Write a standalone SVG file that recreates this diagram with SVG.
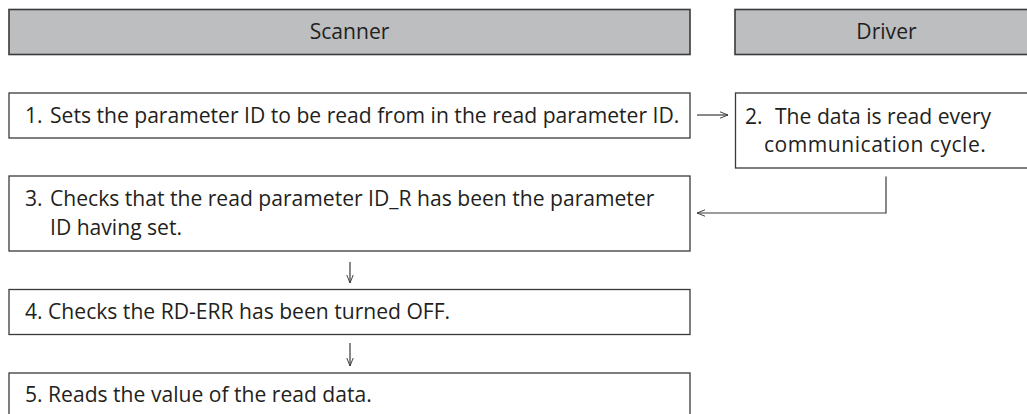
<svg xmlns="http://www.w3.org/2000/svg" width="1027" height="414" viewBox="0 0 1027 414">
<defs>
<style>
.hdr{fill:#bcbec0;stroke:#3a3a3a;stroke-width:1.6}
.box{fill:#fff;stroke:#3a3a3a;stroke-width:1.3}
.t{font-family:"Open Sans","Noto Sans",sans-serif;font-size:21.1px;fill:#231f20}
.ht{font-family:"Open Sans","Noto Sans",sans-serif;font-size:21.1px;fill:#231f20;text-anchor:middle}
.ln{fill:none;stroke:#3a3a3a;stroke-width:1.2}
</style>
<marker id="ah" viewBox="0 0 10 10" refX="10" refY="5" markerWidth="8" markerHeight="8" markerUnits="userSpaceOnUse" orient="auto">
<path d="M0,1 L10,5 L0,9" fill="none" stroke="#3a3a3a" stroke-width="1.2"/>
</marker>
</defs>
<g id="scanner-header">
<rect class="hdr" x="9" y="9.5" width="681" height="45"/>
<text class="ht" x="349.5" y="38.5">Scanner</text>
</g>
<g id="driver-header">
<rect class="hdr" x="735" y="9.5" width="303" height="45"/>
<text class="ht" x="886.5" y="38.5">Driver</text>
</g>
<g id="step1">
<rect class="box" x="9" y="93" width="681" height="45"/>
<text class="t" y="122.5"><tspan x="25">1.</tspan><tspan x="50">Sets the parameter ID to be read from in the read parameter ID.</tspan></text>
</g>
<g id="step2">
<rect class="box" x="735.5" y="93" width="303" height="75"/>
<text class="t" y="124"><tspan x="745">2.</tspan><tspan x="775">The data is read every</tspan></text>
<text class="t" x="764" y="152" letter-spacing="0.5">communication cycle.</text>
</g>
<g id="step3">
<rect class="box" x="9" y="176" width="681" height="75"/>
<text class="t" y="206"><tspan x="25">3.</tspan><tspan x="50">Checks that the read parameter ID_R has been the parameter</tspan></text>
<text class="t" x="50" y="235">ID having set.</text>
</g>
<g id="step4">
<rect class="box" x="9" y="289.5" width="681" height="45"/>
<text class="t" x="25" y="319">4. Checks the RD-ERR has been turned OFF.</text>
</g>
<g id="step5">
<rect class="box" x="9" y="373" width="681" height="46"/>
<text class="t" x="25" y="402">5. Reads the value of the read data.</text>
</g>
<g id="connectors">
<line class="ln" x1="697" y1="115" x2="728" y2="115" marker-end="url(#ah)"/>
<path class="ln" d="M886,176.5 V213 H697" marker-end="url(#ah)"/>
<line class="ln" x1="350" y1="262" x2="350" y2="283" marker-end="url(#ah)"/>
<line class="ln" x1="350" y1="343" x2="350" y2="366" marker-end="url(#ah)"/>
</g>
</svg>
